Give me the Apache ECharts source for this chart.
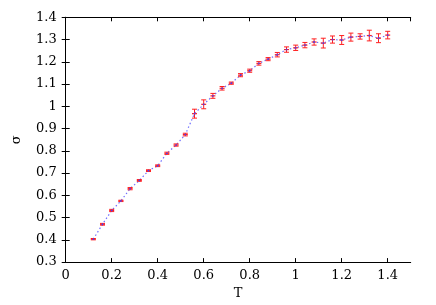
<!DOCTYPE html>
<html><head><meta charset="utf-8">
<script src="https://cdn.jsdelivr.net/npm/echarts@6/dist/echarts.min.js"></script>
<style>html,body{margin:0;padding:0;background:#fff}#c{width:436px;height:305px}</style>
</head><body><div id="c"></div>
<script>
const temps = [0.12,0.16,0.20,0.24,0.28,0.32,0.36,0.40,0.44,0.48,0.52,0.56,0.60,0.64,0.68,0.72,0.76,0.80,0.84,0.88,0.92,0.96,1.00,1.04,1.08,1.12,1.16,1.20,1.24,1.28,1.32,1.36,1.40];
const sigma = [0.403,0.470,0.532,0.575,0.630,0.667,0.711,0.733,0.789,0.826,0.873,0.967,1.009,1.047,1.081,1.104,1.140,1.160,1.193,1.212,1.232,1.255,1.263,1.275,1.289,1.284,1.300,1.298,1.311,1.314,1.318,1.306,1.320];
const errs = [0.003,0.004,0.005,0.003,0.005,0.004,0.004,0.004,0.005,0.005,0.006,0.020,0.020,0.011,0.008,0.005,0.007,0.007,0.008,0.007,0.010,0.012,0.012,0.012,0.014,0.022,0.016,0.020,0.018,0.012,0.024,0.020,0.017];
const xTicks = [0,0.2,0.4,0.6,0.8,1,1.2,1.4];
const yTicks = [0.3,0.4,0.5,0.6,0.7,0.8,0.9,1,1.1,1.2,1.3,1.4];

const font = '"DejaVu Serif", "Liberation Serif", serif';
const chart = echarts.init(document.getElementById('c'), null, {renderer:'canvas'});
const lineData = temps.map((t,i)=>[t,sigma[i]]);
const errData = temps.map((t,i)=>[t,sigma[i]-errs[i],sigma[i]+errs[i],sigma[i]]);
const axCommon = {
  axisLine:{show:true,lineStyle:{color:'#000',width:1}},
  axisTick:{show:true,inside:true,length:4,lineStyle:{color:'#000'}},
  splitLine:{show:false}
};
chart.setOption({
  animation:false,
  grid:{left:65.7,right:25.3,top:17.3,bottom:42.3,show:false},
  xAxis:[
    Object.assign({type:'value',min:0,max:1.5,interval:0.2,position:'bottom',
      name:'T',nameLocation:'middle',nameGap:24,
      nameTextStyle:{fontFamily:font,fontSize:13,color:'#000'},
      axisLabel:{fontFamily:font,fontSize:13,color:'#000',margin:7,
        showMaxLabel:false,
        formatter:v=>xTicks.some(t=>Math.abs(t-v)<1e-6)?String(+v.toFixed(1)):''}},axCommon),
    Object.assign({type:'value',min:0,max:1.5,interval:0.2,position:'top',
      axisLabel:{show:false}},axCommon)
  ],
  yAxis:[
    Object.assign({type:'value',min:0.3,max:1.4,interval:0.1,position:'left',
      name:'σ',nameLocation:'middle',nameGap:43,nameRotate:90,
      nameTextStyle:{fontFamily:font,fontSize:13,color:'#000'},
      axisLabel:{fontFamily:font,fontSize:13,color:'#000',margin:9,
        formatter:v=>String(+v.toFixed(1))}},axCommon),
    Object.assign({type:'value',min:0.3,max:1.4,interval:0.1,position:'right',
      axisLabel:{show:false}},axCommon)
  ],
  series:[
    {type:'line',data:lineData,xAxisIndex:0,yAxisIndex:0,symbol:'none',
      lineStyle:{color:'#7070ff',width:1.2,type:[1.5,2.5]},z:2},
    {type:'custom',xAxisIndex:0,yAxisIndex:0,data:errData,z:3,
      renderItem:function(params,api){
        const x=api.value(0);
        const lo=api.coord([x,api.value(1)]);
        const hi=api.coord([x,api.value(2)]);
        const c=api.coord([x,api.value(3)]);
        const w=2.5;
        const st={stroke:'#ff2020',lineWidth:1};
        return {type:'group',children:[
          {type:'line',shape:{x1:lo[0],y1:lo[1],x2:hi[0],y2:hi[1]},style:st},
          {type:'line',shape:{x1:lo[0]-w,y1:lo[1],x2:lo[0]+w,y2:lo[1]},style:st},
          {type:'line',shape:{x1:hi[0]-w,y1:hi[1],x2:hi[0]+w,y2:hi[1]},style:st},
          {type:'line',shape:{x1:c[0]-2.5,y1:c[1],x2:c[0]+2.5,y2:c[1]},style:{stroke:'#ff2020',lineWidth:1.2}},
          {type:'circle',shape:{cx:c[0],cy:c[1],r:0.9},style:{fill:'#4040ff'}}
        ]};
      }}
  ]
});
</script></body></html>
